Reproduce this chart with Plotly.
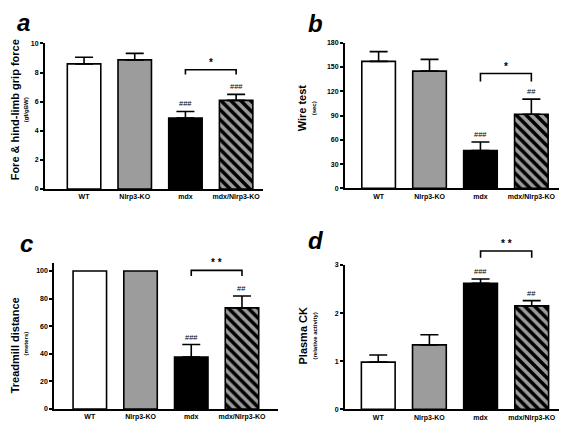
import plotly.graph_objects as go

groups = ["WT", "Nlrp3-KO", "mdx", "mdx/Nlrp3-KO"]

grip_mean = [8.6, 8.87, 4.88, 6.09]
grip_sem = [0.45, 0.45, 0.45, 0.41]
grip_marks = ["", "", "###", "###"]

wire_mean = [157, 145, 46.6, 91.6]
wire_sem = [12, 14.5, 10.6, 18.7]
wire_marks = ["", "", "###", "##"]

tread_mean = [100, 100, 37.6, 73.3]
tread_sem = [0, 0, 9.1, 8.6]
tread_marks = ["", "", "###", "##"]

ck_mean = [0.98, 1.34, 2.62, 2.15]
ck_sem = [0.15, 0.21, 0.09, 0.11]
ck_marks = ["", "", "###", "##"]

# significance brackets: (group i, group j, top, drop, label)
grip_sig = (2, 3, 8.19, 7.86, "*")
wire_sig = (2, 3, 142, 132, "*")
tread_sig = (2, 3, 100.5, 96.4, "* *")
ck_sig = (2, 3, 3.29, 3.15, "* *")

fills = ["white", "#9c9c9c", "black", "#9c9c9c"]
hatched = [False, False, False, True]

# page pixel boxes: (left, right, top, bottom)
panels = [
    dict(mean=grip_mean, sem=grip_sem, marks=grip_marks, sig=grip_sig,
         ymax=10, dtick=2, xr=[-0.77, 3.53], box=(45, 263, 40, 188),
         title="Fore & hind-limb grip force", sub="(gf/gBW)",
         tpos=(15, 108), spos=(26, 108), letter="a", lpos=(23, 19)),
    dict(mean=wire_mean, sem=wire_sem, marks=wire_marks, sig=wire_sig,
         ymax=180, dtick=30, xr=[-0.66, 3.70], box=(345, 567, 39.3, 187.3),
         title="Wire test", sub="(sec)",
         tpos=(302, 106), spos=(314, 106), letter="b", lpos=(316, 20)),
    dict(mean=tread_mean, sem=tread_sem, marks=tread_marks, sig=tread_sig,
         ymax=106, dtick=20, xr=[-0.70, 3.71], box=(54.3, 278, 263, 411.7),
         title="Treadmill distance", sub="(meters)",
         tpos=(15, 347), spos=(26, 345), letter="c", lpos=(26, 243)),
    dict(mean=ck_mean, sem=ck_sem, marks=ck_marks, sig=ck_sig,
         ymax=3, dtick=1, xr=[-0.65, 3.69], box=(345, 567, 265.3, 412),
         title="Plasma CK", sub="(relative activity)",
         tpos=(303, 337), spos=(314, 338), letter="d", lpos=(316, 240)),
]

PAGE_W, PAGE_H = 567, 428
OFF = 8  # default body margin of the html page
W, H = PAGE_W - OFF, PAGE_H - OFF
FONT = "Liberation Sans"


def fx(px):
    return (px - OFF) / W


def fy(py):
    return 1 - (py - OFF) / H


fig = go.Figure()
shapes = []
annotations = []

for k, p in enumerate(panels, start=1):
    xa = "x" if k == 1 else f"x{k}"
    ya = "y" if k == 1 else f"y{k}"
    xs = list(range(len(groups)))
    for i in xs:
        marker = dict(color=fills[i], line=dict(color="black", width=1.6))
        if hatched[i]:
            marker["pattern"] = dict(shape="\\", fgcolor="black",
                                     bgcolor=fills[i], size=7,
                                     solidity=0.5, fillmode="replace",
                                     fgopacity=1)
        fig.add_trace(go.Bar(
            x=[i], y=[p["mean"][i]], width=0.66,
            marker=marker,
            error_y=dict(type="data", array=[p["sem"][i]],
                         arrayminus=[0], symmetric=False,
                         color="black", thickness=1.6, width=9,
                         visible=p["sem"][i] > 0),
            xaxis=xa, yaxis=ya, showlegend=False,
        ))
    l, r, t, b = p["box"]
    lay_x = "xaxis" if k == 1 else f"xaxis{k}"
    lay_y = "yaxis" if k == 1 else f"yaxis{k}"
    fig.layout[lay_x] = dict(
        domain=[fx(l), min(fx(r), 1)], range=p["xr"], anchor=ya,
        tickmode="array", tickvals=xs, ticktext=groups,
        showline=True, linecolor="black", linewidth=2, ticks="",
        showgrid=False, zeroline=False,
        tickfont=dict(family=FONT, size=7, color="black", weight="bold"),
    )
    fig.layout[lay_y] = dict(
        domain=[fy(b), fy(t)], range=[0, p["ymax"]], anchor=xa,
        dtick=p["dtick"], showline=True, linecolor="black", linewidth=2,
        ticks="outside", ticklen=3, tickwidth=1.5, tickcolor="black",
        showgrid=False, zeroline=False,
        tickfont=dict(family=FONT, size=7, color="black", weight="bold"),
    )
    # significance marks above error bars
    for i, m in enumerate(p["marks"]):
        if m:
            annotations.append(dict(
                x=i, y=p["mean"][i] + p["sem"][i], xref=xa, yref=ya,
                text=m, showarrow=False, yanchor="bottom", yshift=1,
                font=dict(family=FONT, size=7.5, color="#000000")))
    # bracket
    i, j, top, drop, lab = p["sig"]
    ymax = p["ymax"]
    pts = [(i, drop), (i, top), (j, top), (j, drop)]
    path = "M " + " L ".join(f"{x},{y / ymax}" for x, y in pts)
    shapes.append(dict(type="path", path=path, xref=xa, yref=f"{ya} domain",
                       line=dict(color="black", width=1.6)))
    annotations.append(dict(
        x=(i + j) / 2, y=top / ymax, xref=xa, yref=f"{ya} domain",
        text=lab, showarrow=False, yanchor="bottom", yshift=0,
        font=dict(family=FONT, size=10, color="black", weight="bold")))
    # axis titles
    annotations.append(dict(
        x=fx(p["tpos"][0]), y=fy(p["tpos"][1]), xref="paper", yref="paper",
        text=p["title"], showarrow=False, textangle=-90,
        xanchor="center", yanchor="middle",
        font=dict(family=FONT, size=11, color="black", weight="bold")))
    annotations.append(dict(
        x=fx(p["spos"][0]), y=fy(p["spos"][1]), xref="paper", yref="paper",
        text=p["sub"], showarrow=False, textangle=-90,
        xanchor="center", yanchor="middle",
        font=dict(family=FONT, size=6, color="black", weight="bold")))
    annotations.append(dict(
        x=fx(p["lpos"][0]), y=fy(p["lpos"][1]), xref="paper", yref="paper",
        text=f"<b><i>{p['letter']}</i></b>", showarrow=False,
        xanchor="center", yanchor="middle",
        font=dict(family=FONT, size=24, color="black")))

fig.update_layout(
    width=W, height=H, margin=dict(l=0, r=0, t=0, b=0),
    paper_bgcolor="white", plot_bgcolor="white",
    shapes=shapes, annotations=annotations, barmode="overlay",
    font=dict(family=FONT, color="black"),
)
fig.write_html("out.html")
